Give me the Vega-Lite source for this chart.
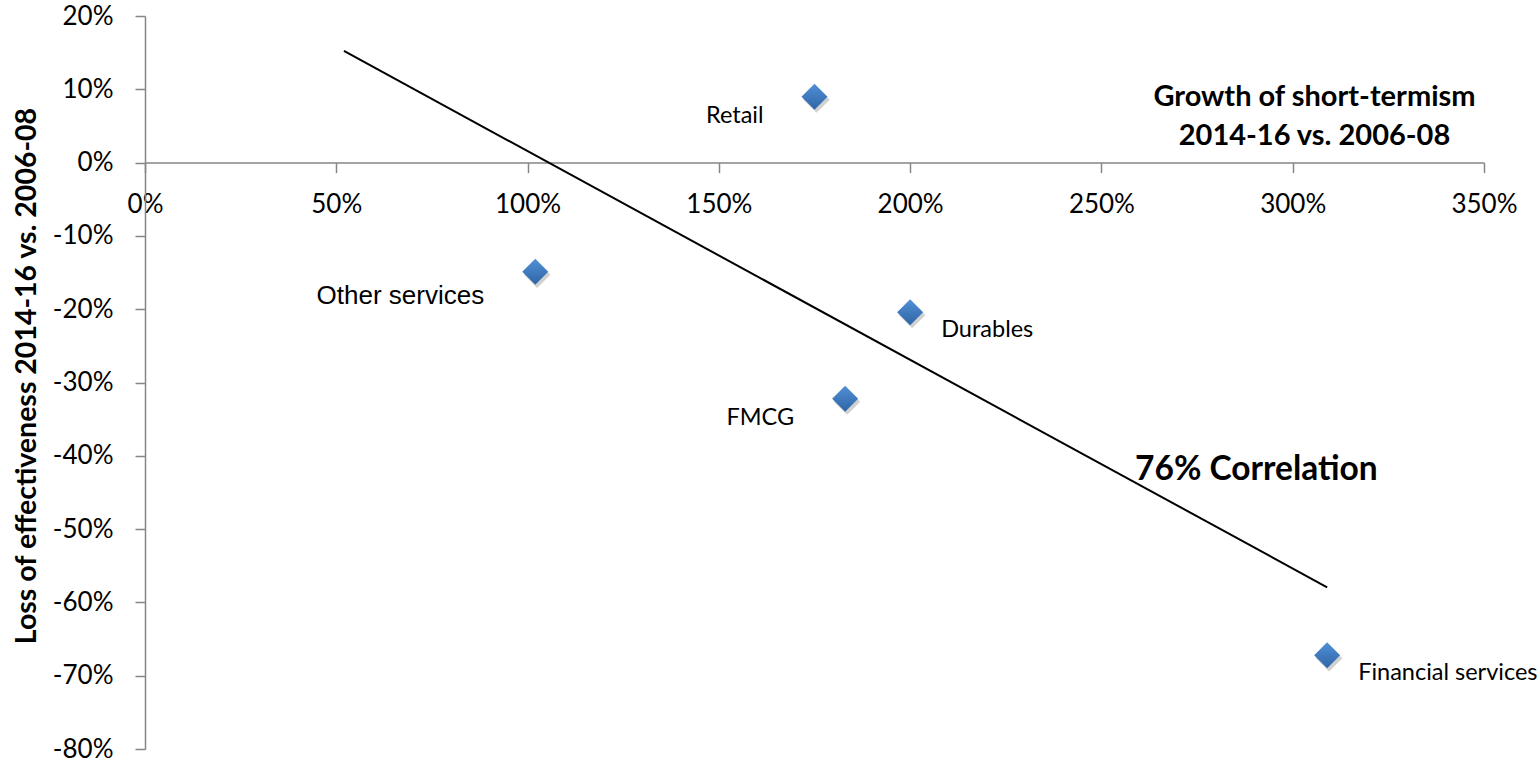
{
  "$schema": "https://vega.github.io/schema/vega-lite/v6.json",
  "autosize": "none",
  "width": 1339,
  "height": 733,
  "padding": {"left": 145, "top": 16, "right": 53, "bottom": 15},
  "background": "white",
  "config": {
    "view": {"stroke": null},
    "font": "Lato",
    "axis": {
      "grid": false,
      "domainColor": "#868686",
      "domainWidth": 1.5,
      "tickColor": "#868686",
      "tickWidth": 1.5,
      "tickSize": 10,
      "labelFont": "Lato",
      "labelFontSize": 26,
      "labelColor": "#000000",
      "labelFlush": false,
      "labelOverlap": false,
      "titleFont": "Lato",
      "titleFontWeight": "bold",
      "titleColor": "#000000"
    }
  },
  "datasets": {
    "sectors": [
      {"sector": "Retail", "growth": 175, "loss": 9.0},
      {"sector": "Other services", "growth": 102, "loss": -14.9},
      {"sector": "Durables", "growth": 200, "loss": -20.4},
      {"sector": "FMCG", "growth": 183, "loss": -32.2},
      {"sector": "Financial services", "growth": 309, "loss": -67.2}
    ],
    "note": [
      {"growth": 290.5, "loss": -43.3, "text": "76% Correlation"}
    ]
  },
  "layer": [
    {
      "data": {"name": "sectors"},
      "transform": [
        {"regression": "loss", "on": "growth", "extent": [52, 309]}
      ],
      "mark": {"type": "line", "color": "#000000", "strokeWidth": 2},
      "encoding": {
        "x": {
          "field": "growth",
          "type": "quantitative",
          "scale": {"domain": [0, 350], "nice": false, "zero": false},
          "axis": {
            "orient": "bottom",
            "offset": -586.4,
            "values": [0, 50, 100, 150, 200, 250, 300, 350],
            "labelExpr": "datum.value + '%'",
            "labelPadding": 19,
            "title": ["Growth of short-termism", "2014-16 vs. 2006-08"],
            "titleFontSize": 29,
            "titleLineHeight": 39,
            "titleX": 1169,
            "titleY": -57.6,
            "titleAlign": "center",
            "titleBaseline": "alphabetic",
            "titleAnchor": null
          }
        },
        "y": {
          "field": "loss",
          "type": "quantitative",
          "scale": {"domain": [-80, 20], "nice": false, "zero": false},
          "axis": {
            "values": [-80, -70, -60, -50, -40, -30, -20, -10, 0, 10, 20],
            "labelExpr": "datum.value + '%'",
            "labelPadding": 22,
            "title": "Loss of effectiveness 2014-16 vs. 2006-08",
            "titleFontSize": 28.5,
            "titleAngle": -90,
            "titleX": -110,
            "titleY": 359.5,
            "titleAlign": "center",
            "titleBaseline": "alphabetic",
            "titleAnchor": null
          }
        }
      }
    },
    {
      "data": {"name": "sectors"},
      "mark": {"type": "point", "shape": "diamond", "filled": true, "size": 700, "color": "#000000", "opacity": 0.18, "xOffset": 2, "yOffset": 3, "strokeWidth": 0},
      "encoding": {
        "x": {"field": "growth", "type": "quantitative"},
        "y": {"field": "loss", "type": "quantitative"}
      }
    },
    {
      "data": {"name": "sectors"},
      "mark": {
        "type": "point",
        "shape": "diamond",
        "filled": true,
        "size": 676,
        "opacity": 1,
        "strokeWidth": 0,
        "fill": {
          "gradient": "linear",
          "x1": 0, "y1": 0, "x2": 0, "y2": 1,
          "stops": [
            {"offset": 0, "color": "#5290D6"},
            {"offset": 1, "color": "#2E65A6"}
          ]
        }
      },
      "encoding": {
        "x": {"field": "growth", "type": "quantitative"},
        "y": {"field": "loss", "type": "quantitative"}
      }
    },
    {
      "data": {"name": "sectors"},
      "transform": [{"filter": {"field": "sector", "oneOf": ["Retail", "FMCG"]}}],
      "mark": {"type": "text", "font": "Lato", "fontSize": 23.5, "align": "right", "baseline": "alphabetic", "dx": -51, "dy": 26, "color": "#000000"},
      "encoding": {
        "x": {"field": "growth", "type": "quantitative"},
        "y": {"field": "loss", "type": "quantitative"},
        "text": {"field": "sector"}
      }
    },
    {
      "data": {"name": "sectors"},
      "transform": [{"filter": {"field": "sector", "equal": "Other services"}}],
      "mark": {"type": "text", "font": "Liberation Sans", "fontSize": 26, "align": "right", "baseline": "alphabetic", "dx": -51, "dy": 32, "color": "#000000"},
      "encoding": {
        "x": {"field": "growth", "type": "quantitative"},
        "y": {"field": "loss", "type": "quantitative"},
        "text": {"field": "sector"}
      }
    },
    {
      "data": {"name": "sectors"},
      "transform": [{"filter": {"field": "sector", "oneOf": ["Durables", "Financial services"]}}],
      "mark": {"type": "text", "font": "Lato", "fontSize": 23.5, "align": "left", "baseline": "alphabetic", "dx": 31, "dy": 24.5, "color": "#000000"},
      "encoding": {
        "x": {"field": "growth", "type": "quantitative"},
        "y": {"field": "loss", "type": "quantitative"},
        "text": {"field": "sector"}
      }
    },
    {
      "data": {"name": "note"},
      "mark": {"type": "text", "font": "Lato", "fontSize": 33.5, "fontWeight": "bold", "align": "center", "baseline": "alphabetic", "color": "#000000"},
      "encoding": {
        "x": {"field": "growth", "type": "quantitative"},
        "y": {"field": "loss", "type": "quantitative"},
        "text": {"field": "text"}
      }
    }
  ]
}
